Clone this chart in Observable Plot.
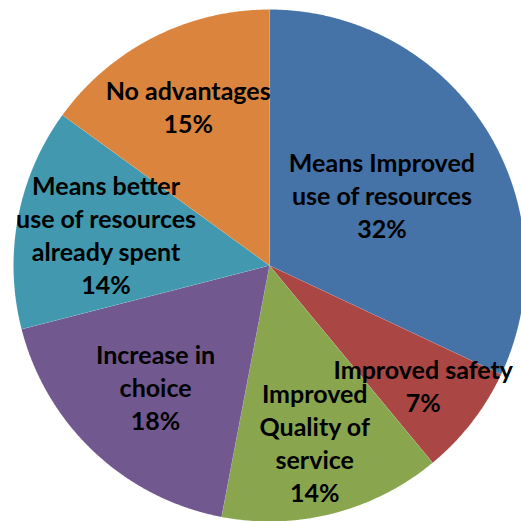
<!DOCTYPE html>
<html>
<head>
<meta charset="utf-8">
<script src="https://cdn.jsdelivr.net/npm/d3@7"></script>
<script src="https://cdn.jsdelivr.net/npm/@observablehq/plot@0.6"></script>
<style>
  html, body { margin: 0; padding: 0; background: #fff; }
  #chart { width: 521px; height: 521px; overflow: hidden; }
</style>
</head>
<body>
<div id="chart"></div>
<script>
const categories = [
  "Means Improved use of resources",
  "Improved safety",
  "Improved Quality of service",
  "Increase in choice",
  "Means better use of resources already spent",
  "No advantages"
];
const values = [32, 7, 14, 18, 14, 15];
const labelLines = [
  ["Means Improved", "use of resources"],
  ["Improved safety"],
  ["Improved", "Quality of", "service"],
  ["Increase in", "choice"],
  ["Means better", "use of resources", "already spent"],
  ["No advantages"]
];
const colors = ["#4572A7", "#AA4643", "#89A54E", "#71588F", "#4198AF", "#DB843D"];
// label distance from centre, as a fraction of the radius
const labelRadius = [0.52, 0.76, 0.71, 0.65, 0.65, 0.70];

const pie = d3.pie().sort(null).value(d => d.value)(
  categories.map((c, i) => ({category: c, value: values[i], i}))
);

const slicePts = [];
for (const a of pie) {
  slicePts.push({category: a.data.category, x: 0, y: 0});
  const n = Math.max(2, Math.ceil((a.endAngle - a.startAngle) / 0.005));
  for (let k = 0; k <= n; k++) {
    const t = a.startAngle + (a.endAngle - a.startAngle) * k / n;
    slicePts.push({category: a.data.category, x: Math.sin(t), y: Math.cos(t)});
  }
}

const labels = pie.map(a => {
  const m = (a.startAngle + a.endAngle) / 2;
  const r = labelRadius[a.data.i];
  return {
    x: r * Math.sin(m),
    y: r * Math.cos(m),
    text: [...labelLines[a.data.i], Math.round(a.data.value) + "%"].join("\n")
  };
});

const cx = 269, cy = 265, R = 256;
const chart = Plot.plot({
  width: 521,
  height: 521,
  margin: 0,
  x: {domain: [-1, 1], range: [cx - R, cx + R], axis: null},
  y: {domain: [-1, 1], range: [cy + R, cy - R], axis: null},
  color: {domain: categories, range: colors},
  style: {fontFamily: "Lato, 'Open Sans', sans-serif", background: "#fff"},
  marks: [
    Plot.line(slicePts, {
      x: "x", y: "y", z: "category", fill: "category",
      stroke: "#ffffff", strokeOpacity: 0.2, strokeWidth: 0.5, curve: "linear-closed"
    }),
    Plot.text(labels, {
      x: "x", y: "y", text: "text",
      fontSize: 25, fontWeight: "bold", fill: "#000", lineHeight: 1.32
    })
  ]
});
document.getElementById("chart").appendChild(chart);
</script>
</body>
</html>
